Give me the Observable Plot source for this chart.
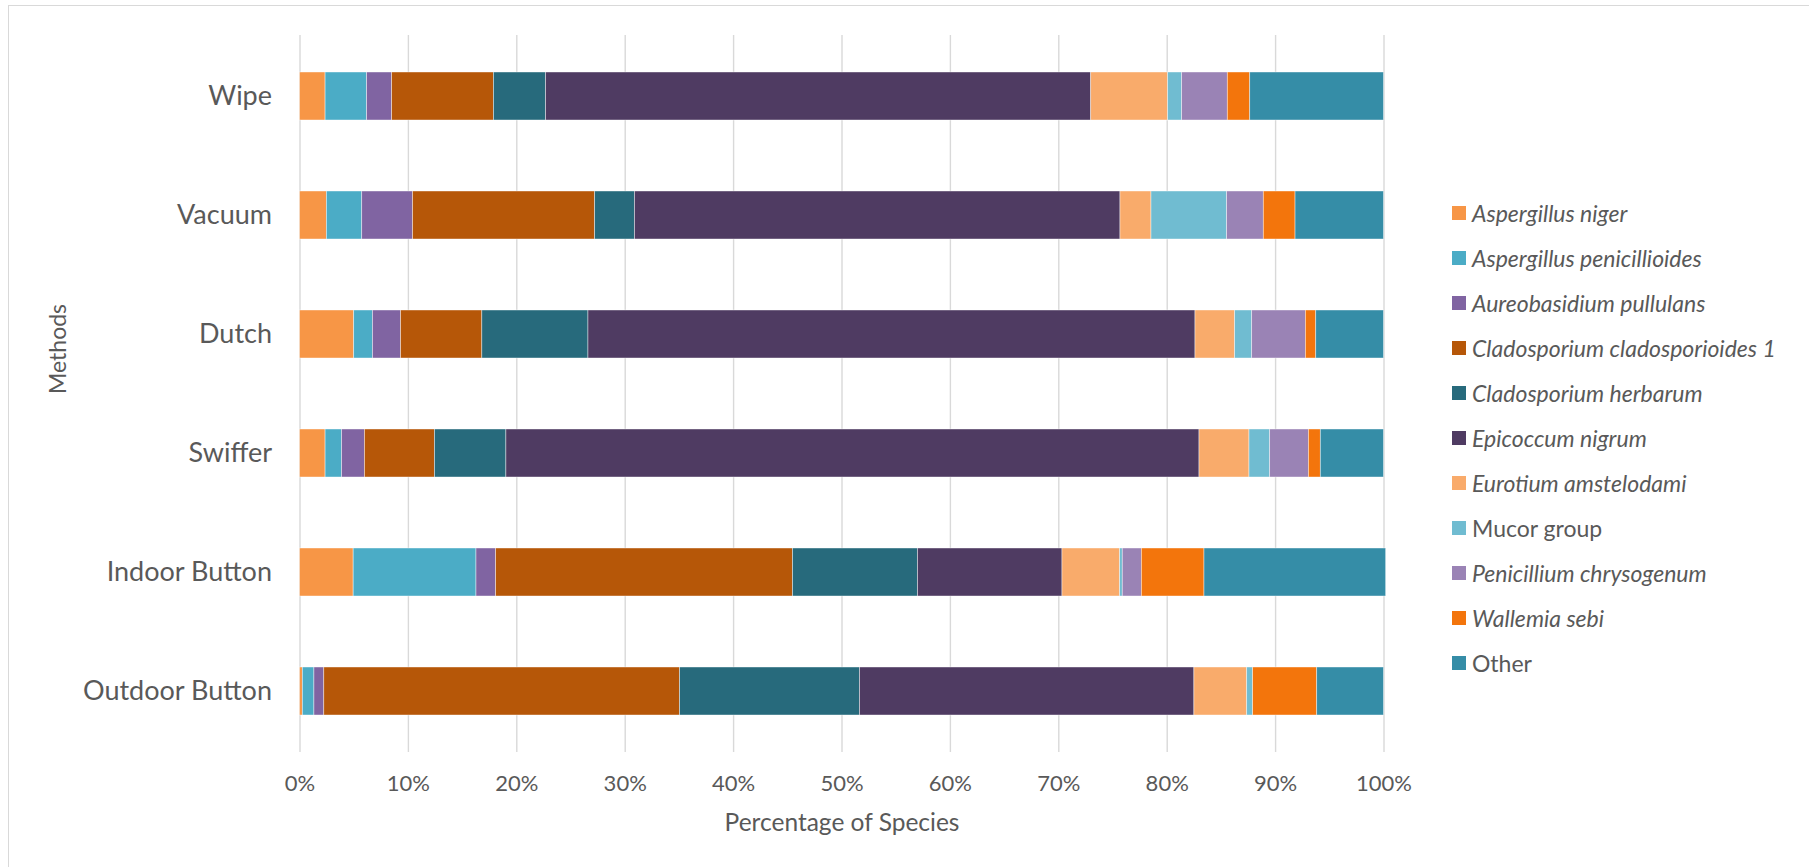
<!DOCTYPE html>
<html>
<head>
<meta charset="utf-8">
<script src="https://cdn.jsdelivr.net/npm/d3@7"></script>
<script src="https://cdn.jsdelivr.net/npm/@observablehq/plot@0.6"></script>
<style>
  html, body { margin: 0; padding: 0; background: #fff; overflow: hidden; }
  #wrap { position: relative; width: 1809px; height: 867px; font-family: Lato, "Open Sans", sans-serif; color: #595959; }
  #frame { position: absolute; left: 8px; top: 5px; width: 1900px; height: 1000px; border-top: 1.5px solid #d9d9d9; border-left: 1.5px solid #d9d9d9; }
  #chart { position: absolute; left: 0; top: 0; }
  #legend { position: absolute; left: 1452px; top: 0; }
  .item { position: absolute; left: 0; display: flex; align-items: center; white-space: nowrap; font-size: 23px; }
  .sw { width: 14px; height: 14px; margin-right: 6px; flex: none; }
</style>
</head>
<body>
<div id="wrap">
  <div id="frame"></div>
  <div id="chart"></div>
  <div id="legend"></div>
</div>
<script>
// Sampling methods, top to bottom
const methods = ["Wipe", "Vacuum", "Dutch", "Swiffer", "Indoor Button", "Outdoor Button"];

// Species shown in the stack, left to right
const species = [
  "Aspergillus niger", "Aspergillus penicillioides", "Aureobasidium pullulans",
  "Cladosporium cladosporioides 1", "Cladosporium herbarum", "Epicoccum nigrum",
  "Eurotium amstelodami", "Mucor group", "Penicillium chrysogenum", "Wallemia sebi", "Other"
];
// Names set in roman type rather than italics
const roman = ["Mucor group", "Other"];

const colors = [
  "#f79646", "#4bacc6", "#8064a2", "#b65708", "#276a7c", "#4f3b62",
  "#f9ab6b", "#70bcd1", "#9a83b5", "#f3750c", "#358da7"
];

// Percentage of species per method (same order as methods)
const aspergillusNiger          = [2.36, 2.48, 5.00, 2.36, 4.95, 0.26];
const aspergillusPenicillioides = [3.83, 3.26, 1.73, 1.52, 11.33, 1.07];
const aureobasidiumPullulans    = [2.31, 4.69, 2.59, 2.11, 1.81, 0.91];
const cladosporioides1          = [9.39, 16.80, 7.50, 6.46, 27.39, 32.82];
const cladosporiumHerbarum      = [4.81, 3.67, 9.79, 6.59, 11.53, 16.60];
const epicoccumNigrum           = [50.29, 44.79, 56.00, 63.94, 13.33, 30.85];
const eurotiumAmstelodami       = [7.10, 2.86, 3.66, 4.61, 5.32, 4.87];
const mucorGroup                = [1.29, 6.98, 1.57, 1.91, 0.24, 0.55];
const penicilliumChrysogenum    = [4.21, 3.38, 4.95, 3.57, 1.76, 0];
const wallemiaSebi              = [2.07, 2.93, 0.96, 1.10, 5.78, 5.91];
const other                     = [12.34, 8.16, 6.25, 5.83, 16.76, 6.16];

const series = [
  aspergillusNiger, aspergillusPenicillioides, aureobasidiumPullulans,
  cladosporioides1, cladosporiumHerbarum, epicoccumNigrum,
  eurotiumAmstelodami, mucorGroup, penicilliumChrysogenum, wallemiaSebi, other
];

const xTicks = d3.range(0, 1.0001, 0.1);

// Long table: one row per method × species, in stacking order
const rows = [];
methods.forEach((m, i) => {
  species.forEach((s, j) => {
    rows.push({ method: m, species: s, value: series[j][i] / 100 });
  });
});

const chart = Plot.plot({
  width: 1809,
  height: 867,
  marginLeft: 299.5,
  marginRight: 425.5,
  marginTop: 35,
  marginBottom: 115,
  style: { fontFamily: "Lato, 'Open Sans', sans-serif", color: "#595959", background: "transparent" },
  x: { domain: [0, 1] },
  y: { domain: methods, paddingInner: 0.6, paddingOuter: 0.3 },
  color: { domain: species, range: colors },
  marks: [
    Plot.gridX(xTicks, { stroke: "#d9d9d9", strokeOpacity: 1, strokeWidth: 1.4 }),
    Plot.barX(rows, Plot.stackX({
      x: "value", y: "method", fill: "species", order: null,
      stroke: "white", strokeWidth: 0.7, strokeOpacity: 0.6
    })),
    Plot.axisX(xTicks, {
      tickSize: 0, tickPadding: 23, fontSize: 22, fill: "#595959",
      tickFormat: d3.format(".0%"), label: null
    }),
    Plot.axisY({ tickSize: 0, tickPadding: 28, fontSize: 27, fill: "#595959", label: null }),
    Plot.text(["Percentage of Species"], {
      frameAnchor: "bottom", dy: 71, fontSize: 24.5, fill: "#595959", lineAnchor: "middle"
    }),
    Plot.text(["Methods"], {
      frameAnchor: "left", dx: -241, rotate: -90, fontSize: 23, fill: "#595959", lineAnchor: "middle"
    })
  ]
});
document.getElementById("chart").appendChild(chart);

// Legend column on the right
const legend = document.getElementById("legend");
species.forEach((s, i) => {
  const item = document.createElement("div");
  item.className = "item";
  item.style.top = (212.7 + 45 * i - 15) + "px";
  item.style.height = "30px";
  const sw = document.createElement("div");
  sw.className = "sw";
  sw.style.background = colors[i];
  const label = document.createElement("span");
  label.textContent = s;
  label.style.fontStyle = roman.includes(s) ? "normal" : "italic";
  item.appendChild(sw);
  item.appendChild(label);
  legend.appendChild(item);
});
</script>
</body>
</html>
